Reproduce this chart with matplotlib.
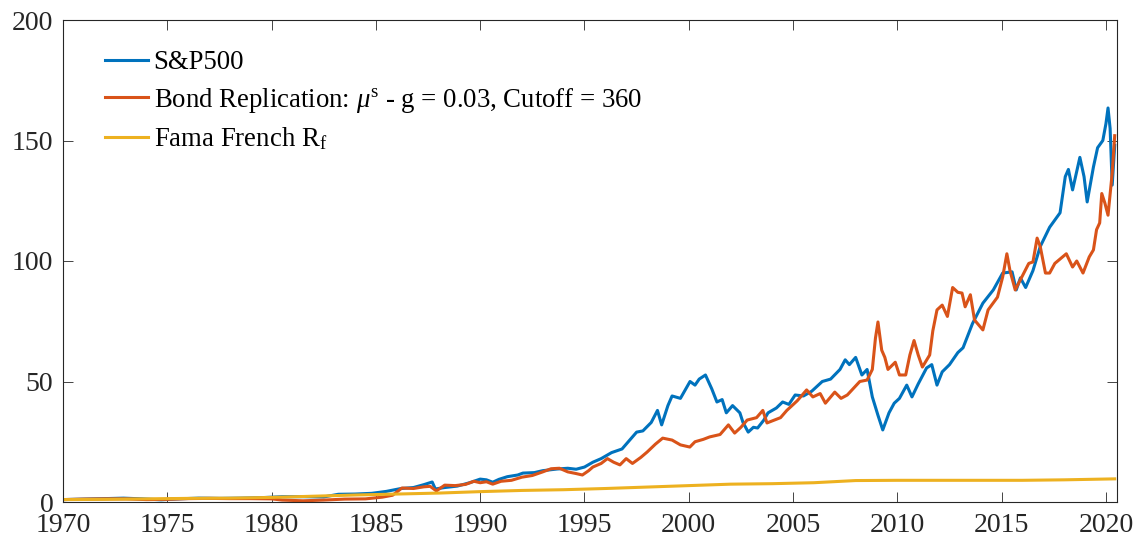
import matplotlib
matplotlib.use("Agg")
import matplotlib.pyplot as plt

# S&P500 cumulative value
sp_year = [1970.0, 1971.0, 1972.0, 1972.9, 1973.8, 1974.7, 1975.5, 1976.5, 1977.5, 1978.5,
           1979.5, 1980.5, 1981.5, 1982.5, 1983.2, 1984.0, 1984.8, 1985.5, 1986.2, 1986.8,
           1987.3, 1987.7, 1987.85, 1988.3, 1988.9, 1989.5, 1990.0, 1990.3, 1990.6, 1990.9,
           1991.3, 1991.8, 1992.05, 1992.6, 1993.0, 1993.7, 1994.2, 1994.6, 1995.0, 1995.4,
           1995.8, 1996.3, 1996.8, 1997.1, 1997.5, 1997.8, 1998.2, 1998.5, 1998.7, 1999.0,
           1999.2, 1999.6, 2000.06, 2000.3, 2000.5, 2000.8, 2001.1, 2001.35, 2001.6, 2001.8,
           2002.1, 2002.45, 2002.6, 2002.85, 2003.1, 2003.3, 2003.6, 2003.8, 2004.2, 2004.5,
           2004.8, 2005.1, 2005.5, 2005.9, 2006.4, 2006.8, 2007.25, 2007.5, 2007.7, 2008.0,
           2008.3, 2008.55, 2008.8, 2009.07, 2009.3, 2009.6, 2009.85, 2010.1, 2010.45, 2010.7,
           2011.0, 2011.4, 2011.65, 2011.9, 2012.15, 2012.5, 2012.9, 2013.15, 2013.6, 2014.1,
           2014.6, 2015.05, 2015.5, 2015.7, 2015.9, 2016.15, 2016.5, 2016.85, 2017.3, 2017.8,
           2018.05, 2018.2, 2018.4, 2018.75, 2018.95, 2019.1, 2019.4, 2019.6, 2019.85, 2020.0,
           2020.1, 2020.2, 2020.3, 2020.42]
sp_val = [1.0, 1.2, 1.4, 1.6, 1.3, 0.9, 1.3, 1.6, 1.5, 1.6,
          1.8, 2.2, 2.2, 2.1, 3.2, 3.3, 3.6, 4.4, 5.6, 6.0,
          7.2, 8.3, 5.4, 6.0, 6.6, 8.0, 9.5, 9.2, 8.2, 9.4,
          10.5, 11.2, 12.0, 12.2, 13.0, 13.7, 14.0, 13.6, 14.5, 16.5,
          18.0, 20.5, 22.0, 25.0, 29.0, 29.5, 33.0, 38.0, 32.0, 40.0,
          44.0, 43.0, 50.0, 48.5, 51.0, 52.7, 47.0, 41.5, 42.5, 37.0,
          40.0, 37.0, 33.0, 29.0, 31.0, 30.7, 34.0, 37.0, 39.0, 41.5,
          40.5, 44.4, 44.0, 46.0, 50.0, 51.0, 55.0, 59.0, 57.0, 60.0,
          52.7, 55.0, 43.6, 36.0, 29.9, 37.0, 41.0, 43.0, 48.5, 43.6,
          49.0, 55.6, 57.0, 48.5, 54.0, 57.0, 62.0, 64.0, 74.0, 82.5,
          88.0, 95.0, 95.5, 88.0, 93.0, 89.0, 96.0, 106.0, 114.0, 120.0,
          135.0, 138.0, 129.5, 143.0, 135.0, 124.5, 139.0, 147.0, 150.0, 157.0,
          163.5, 155.0, 131.5, 148.0]

# Bond replication
bond_year = [1970.0, 1971.0, 1972.0, 1973.0, 1974.0, 1975.0, 1976.0, 1977.0, 1978.0, 1979.0,
             1980.0, 1980.5, 1981.5, 1982.5, 1983.5, 1984.5, 1985.3, 1985.8, 1986.25, 1986.8,
             1987.3, 1987.6, 1987.9, 1988.3, 1988.8, 1989.3, 1989.7, 1990.0, 1990.3, 1990.6,
             1991.0, 1991.5, 1992.0, 1992.5, 1993.0, 1993.4, 1993.8, 1994.2, 1994.6, 1994.9,
             1995.2, 1995.4, 1995.8, 1996.1, 1996.4, 1996.7, 1997.0, 1997.3, 1997.7, 1998.0,
             1998.4, 1998.75, 1999.2, 1999.6, 2000.05, 2000.3, 2000.7, 2001.0, 2001.5, 2001.9,
             2002.2, 2002.5, 2002.8, 2003.25, 2003.55, 2003.75, 2004.1, 2004.4, 2004.7, 2005.2,
             2005.65, 2005.95, 2006.3, 2006.55, 2007.0, 2007.3, 2007.6, 2008.2, 2008.55, 2008.8,
             2008.95, 2009.07, 2009.25, 2009.4, 2009.55, 2009.9, 2010.1, 2010.4, 2010.6, 2010.8,
             2011.0, 2011.2, 2011.55, 2011.7, 2011.9, 2012.15, 2012.4, 2012.65, 2012.9, 2013.1,
             2013.25, 2013.5, 2013.7, 2014.1, 2014.35, 2014.8, 2015.05, 2015.25, 2015.4, 2015.65,
             2015.97, 2016.3, 2016.5, 2016.7, 2016.85, 2017.1, 2017.3, 2017.55, 2018.1, 2018.4,
             2018.6, 2018.9, 2019.2, 2019.4, 2019.55, 2019.7, 2019.8, 2019.95, 2020.1, 2020.3,
             2020.42]
bond_val = [1.0, 1.2, 1.3, 1.3, 1.0, 1.1, 1.4, 1.5, 1.4, 1.4,
            1.3, 0.8, 0.5, 0.8, 1.2, 1.3, 2.0, 2.8, 5.8, 5.6,
            6.3, 6.5, 4.6, 7.0, 6.8, 7.3, 8.6, 8.0, 8.4, 7.4,
            8.6, 9.0, 10.3, 11.0, 12.5, 13.8, 14.0, 12.5, 11.8, 11.2,
            13.0, 14.5, 16.0, 18.0, 16.5, 15.4, 18.0, 16.0, 18.5, 20.7,
            24.0, 26.5, 25.7, 23.7, 22.8, 25.0, 26.0, 27.0, 28.0, 32.0,
            28.6, 31.0, 34.0, 35.0, 38.0, 32.8, 34.0, 35.0, 38.0, 42.0,
            46.5, 43.6, 45.0, 41.0, 45.6, 43.0, 44.4, 50.0, 50.6, 55.0,
            68.0, 74.7, 63.0, 60.0, 55.0, 58.0, 52.7, 52.7, 61.0, 67.0,
            61.0, 56.0, 61.0, 71.0, 79.7, 81.7, 77.0, 89.0, 87.0, 86.7,
            81.0, 86.0, 75.5, 71.4, 79.7, 85.0, 93.4, 103.0, 96.0, 88.0,
            93.4, 99.0, 99.6, 109.5, 106.0, 95.0, 95.0, 99.0, 103.0, 97.5,
            100.0, 95.0, 101.7, 104.6, 113.0, 115.8, 128.0, 124.0, 119.0, 136.5,
            152.0]

# Fama French risk free, cumulative
rf_year = [1970, 1972, 1974, 1976, 1978, 1980, 1982, 1984, 1986, 1988, 1990, 1992, 1994,
           1996, 1998, 2000, 2002, 2004, 2006, 2008, 2010, 2012, 2014, 2016, 2018, 2020.42]
rf_val = [1.0, 1.1, 1.3, 1.5, 1.6, 1.9, 2.4, 2.9, 3.3, 3.7, 4.3, 4.8, 5.1,
          5.6, 6.2, 6.8, 7.4, 7.6, 8.0, 8.9, 9.0, 9.0, 9.0, 9.0, 9.2, 9.6]

labels = ['S&P500',
          r'Bond Replication: $\mu^{\mathrm{s}}$ - g = 0.03, Cutoff = 360',
          r'Fama French R$_{\mathrm{f}}$']

plt.rcParams['font.family'] = ['Liberation Serif', 'DejaVu Serif']
plt.rcParams['mathtext.fontset'] = 'custom'
plt.rcParams['mathtext.rm'] = 'Liberation Serif'
plt.rcParams['mathtext.it'] = 'Liberation Serif:italic'

fig = plt.figure(figsize=(11.41, 5.41), dpi=100)
ax = fig.add_axes([63/1141, 1 - 502/541, (1117 - 63)/1141, (502 - 20)/541])

ax.plot(sp_year, sp_val, color='#0072BD', lw=2.2, label=labels[0])
ax.plot(bond_year, bond_val, color='#D95319', lw=2.2, label=labels[1])
ax.plot(rf_year, rf_val, color='#EDB120', lw=2.2, label=labels[2])

ax.set_xlim(1970, 2020.53)
ax.set_ylim(0, 200)
ax.set_xticks(range(1970, 2021, 5))
ax.set_yticks(range(0, 201, 50))

for s in ax.spines.values():
    s.set_color('#262626')
    s.set_linewidth(0.8)
ax.tick_params(direction='in', top=True, right=True, length=7, width=0.6,
               colors='#262626', labelcolor='#262626', labelsize=20)
ax.tick_params(axis='x', pad=8)
ax.tick_params(axis='y', pad=7)

ax.legend(loc='upper left', bbox_to_anchor=(0.03, 0.96), frameon=False, fontsize=19.3,
          handlelength=1.6, handletextpad=0.2, labelspacing=0.4, borderaxespad=0)

fig.savefig('out.png', dpi=100)
